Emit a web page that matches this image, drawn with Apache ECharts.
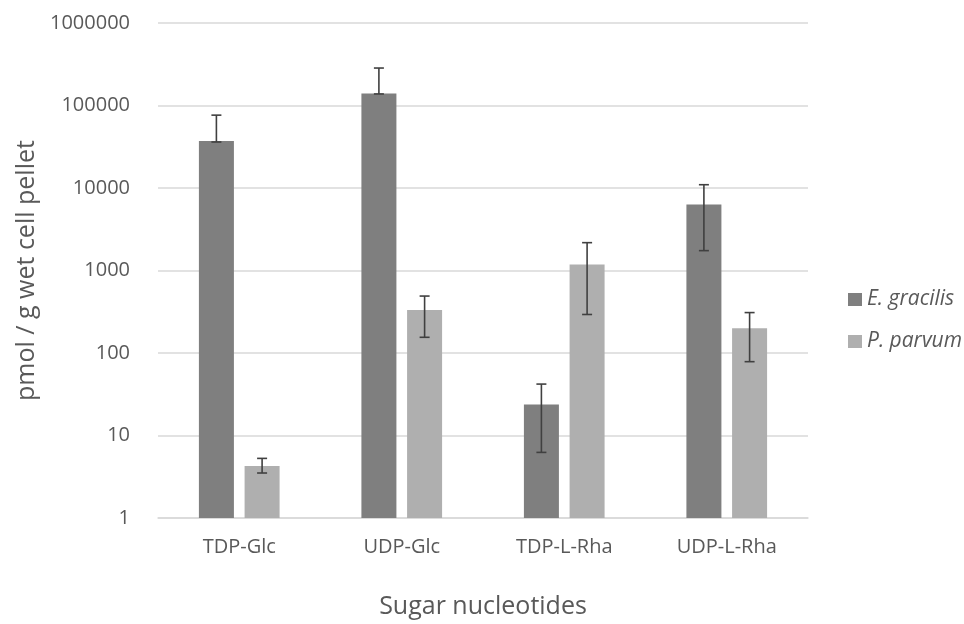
<!DOCTYPE html>
<html><head><meta charset="utf-8">
<script src="https://cdn.jsdelivr.net/npm/echarts@6/dist/echarts.min.js"></script>
<style>html,body{margin:0;padding:0;background:#fff}#c{width:964px;height:624px}</style>
</head><body><div id="c"></div>
<script>
const categories = ['TDP-Glc', 'UDP-Glc', 'TDP-L-Rha', 'UDP-L-Rha'];
const seriesNames = ['E. gracilis', 'P. parvum'];
const egracilis = [37150, 139500, 23.8, 6290];
const egracilisLow = [36100, 138000, 6.24, 1741];
const egracilisHigh = [76400, 284500, 42, 10960];
const pparvum = [4.27, 332, 1181, 200];
const pparvumLow = [3.51, 155, 293, 78.5];
const pparvumHigh = [5.28, 490, 2175, 309];
const yTicks = [1, 10, 100, 1000, 10000, 100000, 1000000];

const chart = echarts.init(document.getElementById('c'));
const FONT = '"Open Sans", sans-serif';
const BAR_W = 35, BAR_GAP = 10.7;

function errData(low, high) {
  return categories.map((c, i) => [i, low[i], high[i]]);
}
function errSeries(name, low, high, side) {
  return {
    type: 'custom',
    name: name + ' err',
    data: errData(low, high),
    encode: { x: 0, y: [1, 2] },
    z: 10,
    silent: true,
    renderItem: function (params, api) {
      const i = api.value(0);
      const lo = api.coord([i, api.value(1)]);
      const hi = api.coord([i, api.value(2)]);
      const x = lo[0] + side * (BAR_W + BAR_GAP) / 2;
      const cap = 5;
      const st = { stroke: '#404040', lineWidth: 1.6 };
      return {
        type: 'group',
        children: [
          { type: 'line', shape: { x1: x, y1: lo[1], x2: x, y2: hi[1] }, style: st },
          { type: 'line', shape: { x1: x - cap, y1: lo[1], x2: x + cap, y2: lo[1] }, style: st },
          { type: 'line', shape: { x1: x - cap, y1: hi[1], x2: x + cap, y2: hi[1] }, style: st }
        ]
      };
    }
  };
}

chart.setOption({
  animation: false,
  backgroundColor: '#ffffff',
  grid: { left: 158, right: 156, top: 23, bottom: 103 },
  legend: {
    data: seriesNames,
    orient: 'vertical',
    left: 843,
    top: 284,
    itemWidth: 14,
    itemHeight: 13,
    itemGap: 21,
    icon: 'rect',
    textStyle: { fontFamily: FONT, fontSize: 21, fontStyle: 'italic', color: '#595959' }
  },
  xAxis: {
    type: 'category',
    data: categories,
    name: 'Sugar nucleotides',
    nameLocation: 'middle',
    nameGap: 76,
    nameTextStyle: { fontFamily: FONT, fontSize: 25, color: '#595959' },
    axisLine: { lineStyle: { color: '#d9d9d9', width: 1.5 } },
    axisTick: { show: false },
    axisLabel: { fontFamily: FONT, fontSize: 20, color: '#595959', margin: 19 }
  },
  yAxis: {
    type: 'log',
    logBase: 10,
    min: 1,
    max: 1000000,
    name: 'pmol / g wet cell pellet',
    nameLocation: 'middle',
    nameGap: 115,
    nameRotate: 90,
    nameTextStyle: { fontFamily: FONT, fontSize: 25, color: '#595959' },
    axisLine: { show: false },
    axisTick: { show: false },
    splitLine: { lineStyle: { color: '#d9d9d9', width: 1.5 } },
    axisLabel: {
      fontFamily: FONT, fontSize: 20, color: '#595959', margin: 28,
      formatter: v => { const r = Math.round(v); return yTicks.includes(r) ? String(r) : ''; }
    }
  },
  series: [
    { type: 'bar', name: seriesNames[0], data: egracilis, barWidth: BAR_W, barGap: '30.5%',
      itemStyle: { color: '#7f7f7f' } },
    { type: 'bar', name: seriesNames[1], data: pparvum, barWidth: BAR_W, barGap: '30.5%',
      itemStyle: { color: '#afafaf' } },
    errSeries(seriesNames[0], egracilisLow, egracilisHigh, -1),
    errSeries(seriesNames[1], pparvumLow, pparvumHigh, 1)
  ]
});
</script></body></html>
